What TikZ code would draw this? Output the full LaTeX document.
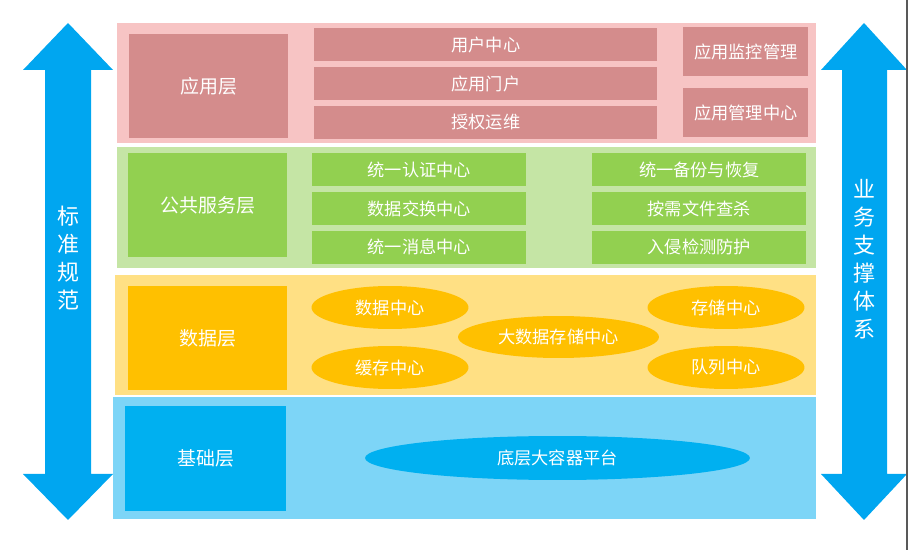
\documentclass[tikz,border=0pt]{standalone}
\usepackage{fontspec}
\setmainfont{Noto Sans CJK SC}
\usepackage{xcolor}
\usetikzlibrary{shapes.geometric, positioning}
\definecolor{appbg}{RGB}{247,196,196}
\definecolor{appbox}{RGB}{212,140,140}
\definecolor{svcbg}{RGB}{197,229,165}
\definecolor{svcbox}{RGB}{146,208,80}
\definecolor{databg}{RGB}{255,224,132}
\definecolor{databox}{RGB}{255,192,0}
\definecolor{basebg}{RGB}{125,213,247}
\definecolor{basebox}{RGB}{0,176,240}
\definecolor{arrowblue}{RGB}{0,166,240}

\begin{document}
\begin{tikzpicture}[
    x=0.02cm, y=-0.02cm,
    layer/.style={rectangle, anchor=north west, inner sep=0pt, minimum width=14cm, minimum height=2.4cm},
    head/.style={rectangle, anchor=north west, inner sep=0pt, text=white, font=\fontsize{10.8}{12}\selectfont, minimum width=3.18cm, minimum height=2.07cm},
    item/.style={rectangle, inner sep=0pt, text=white, font=\fontsize{9.8}{11}\selectfont, minimum height=0.66cm},
    oval/.style={ellipse, inner sep=0pt, text=white, font=\fontsize{9.8}{11}\selectfont, fill=databox, minimum width=3.14cm, minimum height=0.86cm},
    side/.style={text=white, align=center, font=\fontsize{12.5}{15.9}\selectfont}
]
    \useasboundingbox (0,0) rectangle (910,550);

    \fill[arrowblue] (68,23) -- (113,70) -- (91,70) -- (91,474) -- (113,474) -- (68,520) -- (23,474) -- (45,474) -- (45,70) -- (23,70) -- cycle;
    \fill[arrowblue] (864,23) -- (907,70) -- (887,70) -- (887,474) -- (907,474) -- (864,520) -- (821,474) -- (842,474) -- (842,70) -- (821,70) -- cycle;
    \node[side] (norm) at (68,258) {标\\准\\规\\范};
    \node[side] (support) at (864,259) {业\\务\\支\\撑\\体\\系};

    \node[layer, fill=appbg, minimum width=13.98cm] (applayer) at (117,23) {};
    \node[head, fill=appbox] (app) at (129,34) {应用层};
    \node[item, fill=appbox, anchor=north west, minimum width=6.86cm] (user) at (314,28) {用户中心};
    \node[item, fill=appbox, minimum width=6.86cm, below=0.1cm of user] (portal) {应用门户};
    \node[item, fill=appbox, minimum width=6.86cm, below=0.1cm of portal] (auth) {授权运维};
    \node[item, fill=appbox, anchor=north west, minimum width=2.5cm, minimum height=0.98cm] (monitor) at (683,27) {应用监控管理};
    \node[item, fill=appbox, anchor=north west, minimum width=2.5cm, minimum height=0.98cm] (manage) at (683,88) {应用管理中心};

    \node[layer, fill=svcbg, minimum width=13.98cm, minimum height=2.42cm] (svclayer) at (117,147) {};
    \node[head, fill=svcbox] (svc) at (128,153) {公共服务层};
    \node[item, fill=svcbox, anchor=north west, minimum width=4.28cm] (login) at (312,153) {统一认证中心};
    \node[item, fill=svcbox, minimum width=4.28cm, below=0.1cm of login] (exchange) {数据交换中心};
    \node[item, fill=svcbox, minimum width=4.28cm, below=0.1cm of exchange] (message) {统一消息中心};
    \node[item, fill=svcbox, anchor=north west, minimum width=4.28cm] (backup) at (592,153) {统一备份与恢复};
    \node[item, fill=svcbox, minimum width=4.28cm, below=0.1cm of backup] (scan) {按需文件查杀};
    \node[item, fill=svcbox, minimum width=4.28cm, below=0.1cm of scan] (guard) {入侵检测防护};

    \node[layer, fill=databg, minimum width=14.02cm] (datalayer) at (115,275) {};
    \node[head, fill=databox] (data) at (128,286) {数据层};
    \node[oval] (datacenter) at (390,307.5) {数据中心};
    \node[oval] (cache) at (390,367.5) {缓存中心};
    \node[oval, minimum width=4.02cm, minimum height=0.84cm] (bigdata) at (558.5,337) {大数据存储中心};
    \node[oval] (storage) at (726,307.5) {存储中心};
    \node[oval] (queue) at (726,367.5) {队列中心};

    \node[layer, fill=basebg, minimum width=14.06cm, minimum height=2.44cm] (baselayer) at (113,397) {};
    \node[head, fill=basebox, minimum width=3.22cm, minimum height=2.1cm] (base) at (125,406) {基础层};
    \node[oval, fill=basebox, minimum width=7.7cm, minimum height=0.88cm] (container) at (557.5,458) {底层大容器平台};

    \draw[black!65, line width=0.6pt] (907,0) -- (907,550);
\end{tikzpicture}
\end{document}
